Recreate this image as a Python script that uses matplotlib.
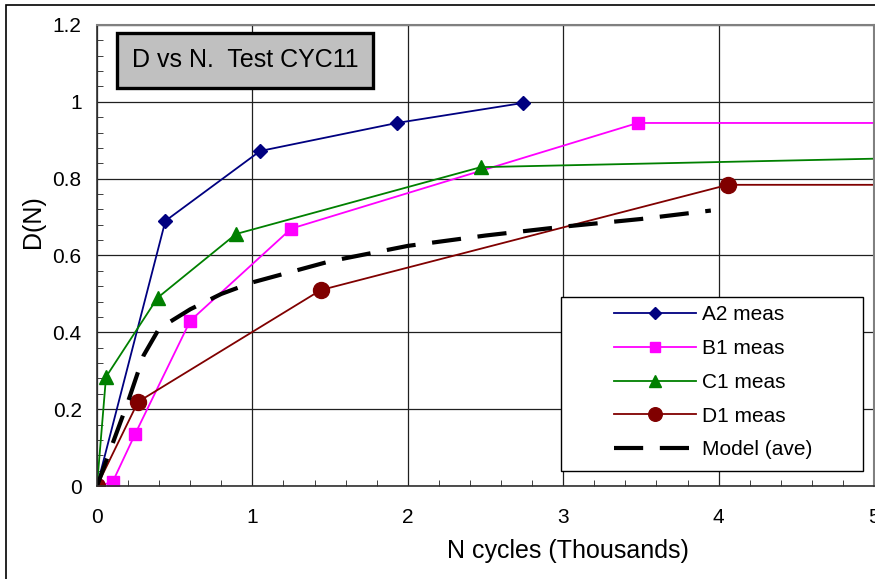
import numpy as np
import matplotlib
matplotlib.use("Agg")
import matplotlib.pyplot as plt
from matplotlib.patches import Rectangle
from matplotlib.ticker import MultipleLocator, FuncFormatter

plt.rcParams['font.family'] = ['Liberation Sans', 'DejaVu Sans']

# measured damage vs cycles (thousands)
a2_n = [0, 0.44, 1.05, 1.93, 2.74]
a2_d = [0, 0.69, 0.872, 0.945, 0.997]

b1_n = [0, 0.10, 0.245, 0.60, 1.25, 3.48, 6.0]
b1_d = [0, 0.01, 0.135, 0.43, 0.67, 0.945, 0.945]

c1_n = [0, 0.058, 0.39, 0.895, 2.47, 6.5]
c1_d = [0, 0.284, 0.49, 0.656, 0.83, 0.865]

d1_n = [0, 0.264, 1.44, 4.06, 6.0]
d1_d = [0, 0.219, 0.51, 0.784, 0.784]

# model average curve
model_n = [0, 0.1, 0.2, 0.3, 0.4, 0.6, 0.8, 1.0, 1.5, 2.0, 2.5, 3.0, 3.5, 3.95]
model_d = [0, 0.11, 0.22, 0.34, 0.41, 0.46, 0.50, 0.53, 0.585, 0.625, 0.652, 0.675, 0.695, 0.717]

fig = plt.figure(figsize=(8.75, 5.79), dpi=100)
ax = fig.add_axes([97/875, 93/579, 777/875, 461/579])

ax.plot(a2_n, a2_d, color='#000080', lw=1.3, marker='D', ms=7.5, label='A2 meas')
ax.plot(b1_n, b1_d, color='#FF00FF', lw=1.3, marker='s', ms=8.5, label='B1 meas')
ax.plot(c1_n, c1_d, color='#008000', lw=1.3, marker='^', ms=9.5, label='C1 meas')
ax.plot(d1_n, d1_d, color='#800000', lw=1.3, marker='o', ms=11.5, label='D1 meas')
ax.plot(model_n, model_d, color='black', lw=3, dashes=(7, 4), label='Model (ave)')

ax.set_xlim(0, 5)
ax.set_ylim(0, 1.2)
ax.xaxis.set_major_locator(MultipleLocator(1))
ax.xaxis.set_minor_locator(MultipleLocator(0.2))
ax.yaxis.set_major_locator(MultipleLocator(0.2))
ax.yaxis.set_minor_locator(MultipleLocator(0.04))
ax.yaxis.set_major_formatter(FuncFormatter(lambda v, p: '%g' % round(v, 2)))

ax.grid(True, which='major', color='#202020', lw=0.9)
ax.set_axisbelow(True)
ax.tick_params(which='both', direction='in', labelsize=15)
ax.tick_params(which='major', length=0)
ax.tick_params(which='minor', length=4, color='#202020')
ax.tick_params(axis='x', pad=16)
ax.tick_params(axis='y', pad=11)

for side in ['left', 'bottom']:
    ax.spines[side].set_color('#303030')
    ax.spines[side].set_linewidth(1.2)
for side in ['top', 'right']:
    ax.spines[side].set_color('#808080')
    ax.spines[side].set_linewidth(1.5)

ax.set_xlabel('N cycles (Thousands)', fontsize=18)
ax.xaxis.set_label_coords(0.606, -0.141)
ax.xaxis.label.set_va('center')
ax.set_ylabel('D(N)', fontsize=18)
ax.yaxis.set_label_coords(-0.082, 0.573)
ax.yaxis.label.set_va('center')

# title box
ax.add_patch(Rectangle((0.0257, 0.8633), 0.3295, 0.1193, transform=ax.transAxes,
                       facecolor='#c0c0c0', edgecolor='black', lw=2.4, zorder=5))
ax.text(0.1905, 0.909, 'D vs N.  Test CYC11', transform=ax.transAxes, fontsize=18,
        ha='center', va='baseline', zorder=6)

# legend with its own frame
ax.add_patch(Rectangle((0.597, 0.0325), 0.389, 0.3775, transform=ax.transAxes,
                       facecolor='white', edgecolor='black', lw=1, zorder=5))
leg = ax.legend(loc='upper left', bbox_to_anchor=(0.6654, 0.392), fontsize=15,
                frameon=False, handlelength=3.94, labelspacing=0.71,
                borderpad=0, handletextpad=0.3, borderaxespad=0, markerscale=0.85)
leg.set_zorder(6)

fig.patches.append(Rectangle((6/875, -0.1), 2, 1 - 5/579 + 0.1, transform=fig.transFigure,
                             fill=False, edgecolor='black', lw=1.2))

fig.savefig('out.png', dpi=100)
